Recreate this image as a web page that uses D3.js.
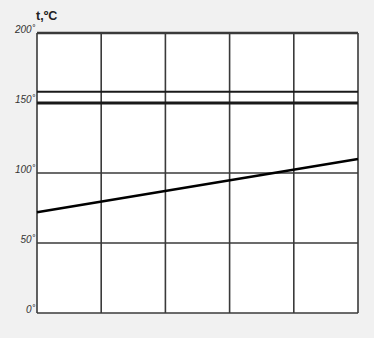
<!DOCTYPE html>
<html>
<head>
<meta charset="utf-8">
<script src="https://cdn.jsdelivr.net/npm/d3@7"></script>
<style>
  body { margin: 0; background: #f1f1f1; }
  svg { display: block; }
</style>
</head>
<body>
<div id="chart"></div>
<script>
// values
var yTicks = [0, 50, 100, 150, 200];
var xCols = [0, 1, 2, 3, 4, 5];
var flatLines = [
    {name: "upper", value: 158, width: 2},
    {name: "main", value: 150, width: 3}
];
var slopeX = [0, 5];
var slopeY = [72, 110];

var width = 374, height = 338;
var margin = {top: 33, right: 16, bottom: 25, left: 37};

var svg = d3.select("#chart").append("svg")
    .attr("width", width)
    .attr("height", height);

var x = d3.scaleLinear().domain([0, 5]).range([margin.left, width - margin.right]);
var y = d3.scaleLinear().domain([0, 200]).range([height - margin.bottom, margin.top]);

// plot background
svg.append("rect")
    .attr("x", x(0)).attr("y", y(200))
    .attr("width", x(5) - x(0)).attr("height", y(0) - y(200))
    .attr("fill", "#fff");

// grid
svg.selectAll(".hgrid").data(yTicks).enter().append("line")
    .attr("class", "hgrid")
    .attr("x1", x(0)).attr("x2", x(5))
    .attr("y1", function(d) { return y(d); })
    .attr("y2", function(d) { return y(d); })
    .attr("stroke", "#3a3a3a")
    .attr("stroke-width", function(d) { return d == 200 ? 2.5 : 1.6; });

svg.selectAll(".vgrid").data(xCols).enter().append("line")
    .attr("class", "vgrid")
    .attr("y1", y(0)).attr("y2", y(200))
    .attr("x1", function(d) { return x(d); })
    .attr("x2", function(d) { return x(d); })
    .attr("stroke", "#3a3a3a")
    .attr("stroke-width", 1.6);

// flat lines
svg.selectAll(".flat").data(flatLines).enter().append("line")
    .attr("class", "flat")
    .attr("x1", x(0)).attr("x2", x(5))
    .attr("y1", function(d) { return y(d.value); })
    .attr("y2", function(d) { return y(d.value); })
    .attr("stroke", "#1a1a1a")
    .attr("stroke-width", function(d) { return d.width; });

// sloped line
var line = d3.line()
    .x(function(d) { return x(d[0]); })
    .y(function(d) { return y(d[1]); });

svg.append("path")
    .datum(d3.zip(slopeX, slopeY))
    .attr("d", line)
    .attr("fill", "none")
    .attr("stroke", "#000")
    .attr("stroke-width", 2.5);

// y labels
svg.selectAll(".ylab").data(yTicks).enter().append("text")
    .attr("class", "ylab")
    .attr("x", x(0) - 2)
    .attr("y", function(d) { return y(d); })
    .attr("text-anchor", "end")
    .attr("font-family", "Liberation Sans, Arial, sans-serif")
    .attr("font-style", "italic")
    .attr("font-size", 10)
    .attr("fill", "#333")
    .text(function(d) { return d + "˚"; });

svg.append("text")
    .attr("x", x(0) - 1)
    .attr("y", 20)
    .attr("font-family", "Liberation Sans, Arial, sans-serif")
    .attr("font-weight", "bold")
    .attr("font-size", 12.5)
    .attr("fill", "#222")
    .text("t,ºC");
</script>
</body>
</html>
